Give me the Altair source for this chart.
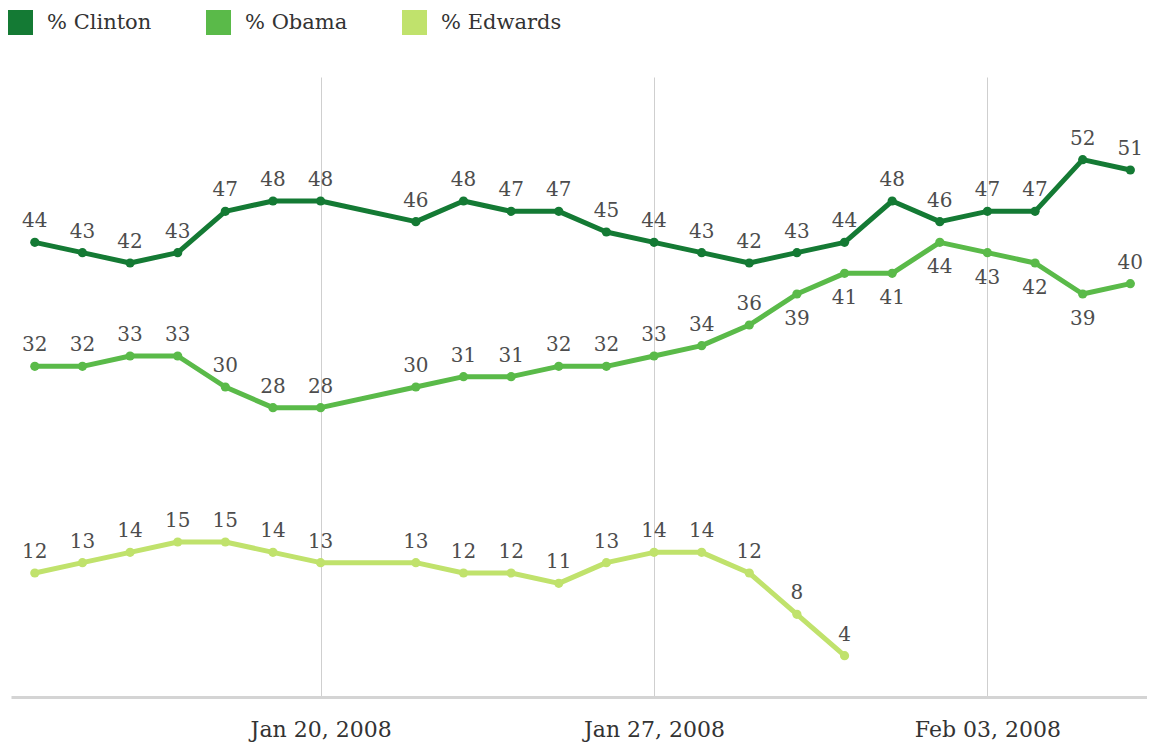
import altair as alt
import pandas as pd

dates = ["2008-01-14", "2008-01-15", "2008-01-16", "2008-01-17", "2008-01-18",
         "2008-01-19", "2008-01-20", "2008-01-22", "2008-01-23", "2008-01-24",
         "2008-01-25", "2008-01-26", "2008-01-27", "2008-01-28", "2008-01-29",
         "2008-01-30", "2008-01-31", "2008-02-01", "2008-02-02", "2008-02-03",
         "2008-02-04", "2008-02-05", "2008-02-06"]
clinton = [44, 43, 42, 43, 47, 48, 48, 46, 48, 47, 47, 45, 44, 43, 42, 43, 44, 48, 46, 47, 47, 52, 51]
obama = [32, 32, 33, 33, 30, 28, 28, 30, 31, 31, 32, 32, 33, 34, 36, 39, 41, 41, 44, 43, 42, 39, 40]
edwards = [12, 13, 14, 15, 15, 14, 13, 13, 12, 12, 11, 13, 14, 14, 12, 8, 4,
           None, None, None, None, None, None]
obama_label_side = ["above"] * 15 + ["below"] * 7 + ["above"]

series_names = ["% Clinton", "% Obama", "% Edwards"]
series_colors = ["#147a34", "#5aba49", "#c0e26c"]
tick_dates = ["2008-01-20", "2008-01-27", "2008-02-03"]

rows = []
for name, vals in zip(series_names, [clinton, obama, edwards]):
    for i, (d, v) in enumerate(zip(dates, vals)):
        if v is None:
            continue
        side = obama_label_side[i] if name == "% Obama" else "above"
        rows.append({"date": d, "series": name, "value": v, "side": side})
df = pd.DataFrame(rows)

def dt(s, h=0, m=0):
    y, mo, d = [int(p) for p in s.split("-")]
    return alt.DateTime(year=y, month=mo, date=d, hours=h, minutes=m, utc=True)

xenc = alt.X("date:T",
             scale=alt.Scale(type="utc", domain=[dt("2008-01-13", 12), dt("2008-02-06", 8, 24)]),
             axis=alt.Axis(values=[dt(t) for t in tick_dates],
                           labelExpr="utcFormat(datum.value, '%b %d, %Y')",
                           title=None, grid=True, gridColor="#cfcfcf",
                           gridWidth=1, ticks=False, tickSize=0, domainColor="#d4d4d4",
                           domainWidth=3, labelFont="DejaVu Serif", labelFontSize=22,
                           labelColor="#333333", labelPadding=22, labelOverlap=False))
yenc = alt.Y("value:Q", scale=alt.Scale(domain=[0, 60]), axis=None)
cscale = alt.Scale(domain=series_names, range=series_colors)

base = alt.Chart(df).encode(x=xenc, y=yenc)

lines = base.mark_line(strokeWidth=5, strokeJoin="round").encode(
    color=alt.Color("series:N", scale=cscale, legend=None),
    detail="series:N")

points = base.mark_point(filled=True, size=85, opacity=1).encode(
    color=alt.Color("series:N", scale=cscale, sort=series_names,
                    legend=alt.Legend(title=None, orient="none", direction="horizontal",
                                      columns=3, legendX=-3, legendY=-67,
                                      symbolType="square", symbolSize=625,
                                      symbolStrokeWidth=0, columnPadding=54,
                                      labelOffset=14, labelFont="DejaVu Serif",
                                      labelFontSize=21, labelColor="#333333")))

labels_above = base.mark_text(dy=-21, baseline="middle", align="center",
                              font="DejaVu Serif", fontSize=20, color="#4d4d4d").encode(
    text="value:Q").transform_filter(alt.datum.side == "above")

labels_below = base.mark_text(dy=25, baseline="middle", align="center",
                              font="DejaVu Serif", fontSize=20, color="#4d4d4d").encode(
    text="value:Q").transform_filter(alt.datum.side == "below")

chart = alt.layer(lines, points, labels_above, labels_below).resolve_legend(
    color="independent"
).properties(
    width=1136, height=620,
    autosize=alt.AutoSizeParams(type="none"),
    padding={"left": 3, "top": 69, "right": 0, "bottom": 45},
).configure_view(stroke=None).configure_legend(
    labelFont="DejaVu Serif", labelFontSize=21, labelColor="#333333"
)

chart.save("out.html", embed_options={"renderer": "svg", "actions": False})
